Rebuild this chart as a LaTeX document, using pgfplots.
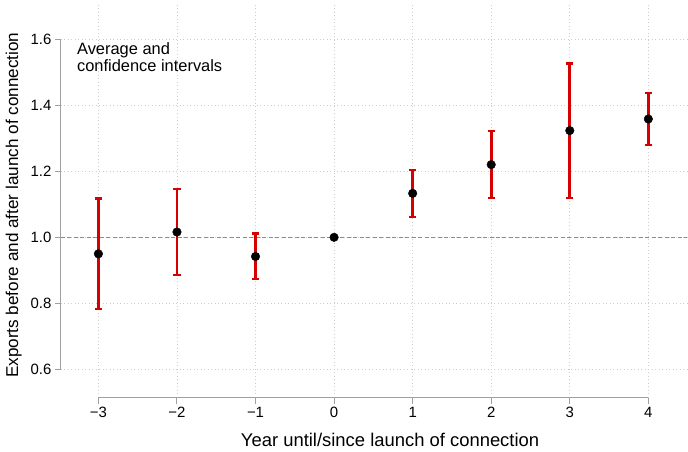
\documentclass[border=0pt]{standalone}
\usepackage{pgfplots}
\pgfplotsset{compat=1.18}
\usepackage{fontspec}
\setmainfont{Liberation Sans}
\definecolor{cired}{RGB}{214,0,0}
\definecolor{axgray}{RGB}{160,160,160}
\definecolor{gridgray}{RGB}{205,205,205}
\begin{document}
\begin{tikzpicture}
\begin{axis}[
  at={(0,0)}, anchor=south west,
  scale only axis, width=627bp, height=393bp,
  xmin=-3.477, xmax=4.496, ymin=0.515, ymax=1.703,
  axis x line*=bottom, axis y line*=left,
  axis line style={draw=none},
  xtick={-3,-2,-1,0,1,2,3,4},
  xticklabels={−3,−2,−1,0,1,2,3,4},
  ytick={0.6,0.8,1.0,1.2,1.4,1.6},
  yticklabels={0.6,0.8,1.0,1.2,1.4,1.6},
  tick align=outside, major tick length=6bp,
  tick style={axgray, line width=1bp},
  ticklabel style={font=\fontsize{15}{15}\selectfont},
  grid=major,
  major grid style={gridgray, line width=0.9bp, dash pattern=on 1bp off 2.5bp},
  xlabel={Year until/since launch of connection},
  ylabel={Exports before and after launch of connection},
  xlabel style={font=\fontsize{18.5}{18.5}\selectfont, at={(axis description cs:0.5255,-0.107)}, anchor=center},
  ylabel style={font=\fontsize{17.2}{17.2}\selectfont, at={(axis description cs:-0.0755,0.49)}, anchor=center},
  clip=false,
]
\draw[axgray, line width=1bp] (axis cs:-3,0.515) -- (axis cs:4,0.515);
\draw[axgray, line width=1bp] (axis cs:-3.477,0.6) -- (axis cs:-3.477,1.6);
\addplot[color=gray!90, line width=1.4bp, dash pattern=on 4bp off 2.5bp, forget plot] coordinates {(-3.477,1) (4.496,1)};
\addplot[only marks, mark=none, forget plot,
  error bars/.cd, y dir=both, y explicit,
  error bar style={cired, line width=2.8bp},
  error mark options={rotate=90, mark size=3.6bp, line width=2.4bp, cired}]
  table[x=x, y=y, y error plus=ep, y error minus=em] {
x  y      ep     em
-3 0.950  0.167  0.167
-2 1.016  0.130  0.130
-1 0.942  0.070  0.068
1  1.133  0.070  0.072
2  1.220  0.102  0.101
3  1.323  0.203  0.204
4  1.358  0.079  0.078
};
\addplot[only marks, mark=*, mark size=4.3bp, black] table[x=x, y=y] {
x  y
-3 0.950
-2 1.016
-1 0.942
0  1.000
1  1.133
2  1.220
3  1.323
4  1.358
};
\node[anchor=north west, align=left, inner sep=0pt, font=\fontsize{16.5}{17}\selectfont] at (axis description cs:0.0255,0.905) {Average and\\confidence intervals};
\end{axis}
\path[use as bounding box] (-61bp,-54bp) rectangle (627bp,398bp);
\end{tikzpicture}
\end{document}
